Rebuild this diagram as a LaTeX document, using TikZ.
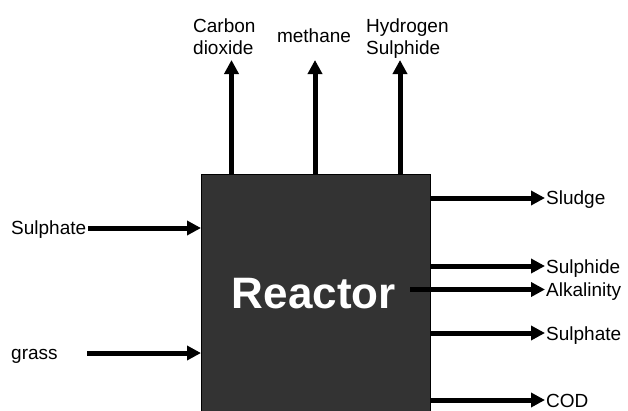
\documentclass[tikz,border=0pt]{standalone}
\usepackage{fontspec}
\setmainfont{Liberation Sans}
\usetikzlibrary{arrows.meta,calc}
\definecolor{boxfill}{HTML}{333333}
\begin{document}
\begin{tikzpicture}[x=1pt,y=-1pt,
  lbl/.style={inner sep=0pt, font=\fontsize{19}{21.7}\selectfont, text=black},
  flow/.style={line width=5pt, -{Triangle[length=14pt,width=14pt]}},
  reactorbox/.style={draw=black, line width=0.8pt, fill=boxfill, inner sep=0pt,
    text=white, font=\fontsize{44}{50}\bfseries\selectfont}]
\useasboundingbox (0,0) rectangle (628,410);
\fill[white] (0,0) rectangle (628,410);
\node[reactorbox, anchor=north west, minimum width=229pt, minimum height=240pt] (reactor) at (201,173.5) {\kern-4pt Reactor};

% top outputs
\coordinate (co2tip) at (231.5,60);
\coordinate (ch4tip) at (315,60);
\coordinate (h2stip) at (400,60);
\node[lbl, anchor=north west, align=left] (co2) at (193,18.4) {Carbon\\dioxide};
\node[lbl, anchor=base] (ch4) at (314,42.7) {methane};
\node[lbl, anchor=north west, align=left] (h2s) at (366,18.4) {Hydrogen\\Sulphide};
\draw[flow] (reactor.north -| co2tip) -- (co2tip);
\draw[flow] (reactor.north -| ch4tip) -- (ch4tip);
\draw[flow] (reactor.north -| h2stip) -- (h2stip);

% left inputs
\node[lbl, anchor=base west] (insulph) at (11,234) {Sulphate};
\node[lbl, anchor=base west] (grass) at (11,359) {grass};
\coordinate (insulphstart) at (88,228);
\coordinate (grassstart) at (87,353);
\draw[flow] (insulphstart) -- (reactor.west |- insulphstart);
\draw[flow] (grassstart) -- (reactor.west |- grassstart);

% right outputs
\coordinate (sludgetip) at (545,198);
\coordinate (sulphidetip) at (545,266);
\coordinate (alktip) at (545,289.5);
\coordinate (alkstart) at (410,289.5);
\coordinate (outsulphtip) at (545,333);
\coordinate (codtip) at (545,400);
\node[lbl, anchor=base west] (sludge) at (546,204.5) {Sludge};
\node[lbl, anchor=base west] (sulphide) at (546,273) {Sulphide};
\node[lbl, anchor=base west] (alk) at (546,296.5) {Alkalinity};
\node[lbl, anchor=base west] (outsulph) at (546,340) {Sulphate};
\node[lbl, anchor=base west] (cod) at (546,407) {COD};
\draw[flow] (reactor.east |- sludgetip) -- (sludgetip);
\draw[flow] (reactor.east |- sulphidetip) -- (sulphidetip);
\draw[flow] (alkstart) -- (alktip);
\draw[flow] (reactor.east |- outsulphtip) -- (outsulphtip);
\draw[flow] (reactor.east |- codtip) -- (codtip);
\end{tikzpicture}
\end{document}
